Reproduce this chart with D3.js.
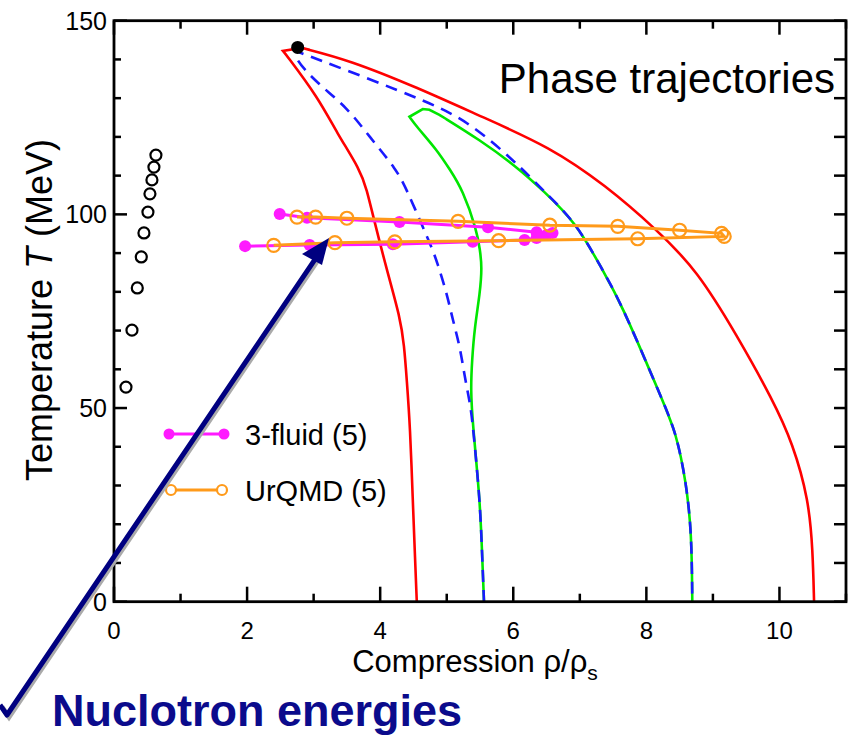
<!DOCTYPE html>
<html>
<head>
<meta charset="utf-8">
<script src="https://cdnjs.cloudflare.com/ajax/libs/d3/7.8.5/d3.min.js"></script>
<style>
  body { margin: 0; background: #fff; }
  text { font-family: "Liberation Sans", Arial, sans-serif; }
</style>
</head>
<body>
<script>
// phase boundaries [compression, T]: left branch (going up), top, right branch (going down)
var redInner = [[4.55,0],[4.52,13],[4.49,26.1],[4.45,45.1],[4.40,57.2],[4.36,66.3],[4.30,73.4],[4.10,85.6],[3.89,99.8],[3.80,106.3],[3.70,111.5],[3.35,121.0],[3.07,130.1],[2.57,141.6],[2.54,142.2]];
var redTop = [[2.54,142.2],[2.82,143.0]];
var redOuter = [[2.82,143.0],[3.54,139.8],[4.55,132.8],[5.54,125.1],[6.55,117.4],[7.38,107.6],[8.16,96.0],[8.76,85.6],[9.36,68.8],[9.90,52.1],[10.20,40.9],[10.44,26.3],[10.50,13.3],[10.52,0]];

var greenInner = [[5.56,0],[5.53,13],[5.50,26.1],[5.39,46.1],[5.36,54.6],[5.38,62.4],[5.42,70.9],[5.50,79.7],[5.53,86.4],[5.50,90.8],[5.45,96.0],[5.24,106.3],[5.05,111.5],[4.85,116.7],[4.55,122.6],[4.44,125.2]];
var greenTop = [[4.44,125.2],[4.64,127.2],[4.74,127.0],[4.89,125.7]];
var greenOuter = [[4.89,125.7],[5.50,119.2],[6.05,112.3],[6.44,106.3],[6.95,97.8],[7.34,85.6],[7.60,77.9],[8.24,52.1],[8.45,43.5],[8.60,30.6],[8.68,17.7],[8.69,0]];

var blueInner = [[5.56,0],[5.53,13],[5.50,26.1],[5.39,46.1],[5.35,51.3],[5.27,58.0],[5.20,65.8],[5.09,72.8],[5.00,79.7],[4.86,87.4],[4.79,90.8],[4.64,96.8],[4.40,106.3],[4.25,111.5],[3.84,120.0],[3.50,127.7],[3.05,133.9],[2.69,140.6],[2.76,142.6]];
var blueTop = [[2.76,142.6],[2.79,141.8]];
var blueOuter = [[2.79,141.8],[3.80,135.2],[4.64,129.5],[5.30,124.4],[6.05,113.3],[6.44,106.3],[6.95,97.8],[7.34,85.6],[7.60,77.9],[8.24,52.1],[8.45,43.5],[8.60,30.6],[8.68,17.7],[8.69,0]];

var critPoint = [2.76, 143.1];
var hadronGas = [[0.63,115.3],[0.60,112.2],[0.57,108.9],[0.54,105.3],[0.51,100.6],[0.45,95.2],[0.41,89.0],[0.35,81.0],[0.27,70.1],[0.18,55.4]];

var threeFluid = [[1.97,91.8],[2.94,92.1],[4.19,92.3],[5.39,92.9],[6.17,93.4],[6.35,93.9],[6.50,94.7],[6.59,95.2],[6.35,95.4],[5.62,96.7],[4.29,98.0],[2.90,99.1],[2.49,100.1]];
var urqmd = [[2.40,92.0],[3.32,92.7],[4.22,92.9],[5.78,93.2],[7.87,93.7],[9.17,94.3],[9.13,95.1],[8.50,95.9],[7.57,96.9],[6.55,97.2],[5.17,98.2],[3.50,99.0],[3.03,99.3],[2.75,99.3]];

var xMajor = [0, 2, 4, 6, 8, 10];
var yMajor = [0, 50, 100, 150];
var legendLabels = ["3-fluid (5)", "UrQMD (5)"];

var width = 852, height = 740;
var svg = d3.select("body").append("svg")
    .attr("width", width)
    .attr("height", height);

var x = d3.scaleLinear().domain([0, 11]).range([114, 846]);
var y = d3.scaleLinear().domain([0, 150]).range([601.7, 20.7]);

var smooth = d3.line()
    .x(function(d) { return x(d[0]); })
    .y(function(d) { return y(d[1]); })
    .curve(d3.curveBasis);
var straight = d3.line()
    .x(function(d) { return x(d[0]); })
    .y(function(d) { return y(d[1]); });

// one continuous path: smooth branches joined by a straight top
function boundary(inner, top, outer) {
  return smooth(inner) + straight(top).replace(/^M/, "L") + smooth(outer).replace(/^M/, "L");
}

// curves
svg.append("path").attr("d", boundary(redInner, redTop, redOuter))
    .attr("fill", "none").attr("stroke", "#ff0000").attr("stroke-width", 2.6);
svg.append("path").attr("d", boundary(greenInner, greenTop, greenOuter))
    .attr("fill", "none").attr("stroke", "#00e600").attr("stroke-width", 2.6);
svg.append("path").attr("d", boundary(blueInner, blueTop, blueOuter))
    .attr("fill", "none").attr("stroke", "#1a1aff").attr("stroke-width", 2.6)
    .attr("stroke-dasharray", "12,8");

// hadron gas points
svg.selectAll(".hg").data(hadronGas).enter().append("circle")
    .attr("cx", function(d) { return x(d[0]); })
    .attr("cy", function(d) { return y(d[1]); })
    .attr("r", 5.5)
    .attr("fill", "none").attr("stroke", "#000").attr("stroke-width", 2.2);

svg.append("circle").attr("cx", x(critPoint[0])).attr("cy", y(critPoint[1]))
    .attr("r", 6.5).attr("fill", "#000");

// trajectories
svg.append("path").attr("d", straight(threeFluid))
    .attr("fill", "none").attr("stroke", "#ff1aff").attr("stroke-width", 3);
svg.selectAll(".tf").data(threeFluid).enter().append("circle")
    .attr("cx", function(d) { return x(d[0]); })
    .attr("cy", function(d) { return y(d[1]); })
    .attr("r", 6).attr("fill", "#ff1aff");

svg.append("path").attr("d", straight(urqmd))
    .attr("fill", "none").attr("stroke", "#ff9a1a").attr("stroke-width", 3);
svg.selectAll(".uq").data(urqmd).enter().append("circle")
    .attr("cx", function(d) { return x(d[0]); })
    .attr("cy", function(d) { return y(d[1]); })
    .attr("r", 6.5).attr("fill", "none")
    .attr("stroke", "#ff9a1a").attr("stroke-width", 2.2);

// frame and ticks
var axes = svg.append("g").attr("stroke", "#000");
axes.append("rect").attr("x", x(0)).attr("y", y(150))
    .attr("width", x(11) - x(0)).attr("height", y(0) - y(150))
    .attr("fill", "none").attr("stroke-width", 2.8);

d3.range(0, 12).forEach(function(v) {
  var major = v % 2 == 0;
  axes.append("line").attr("x1", x(v)).attr("x2", x(v))
      .attr("y1", y(0)).attr("y2", y(0) - (major ? 15 : 8)).attr("stroke-width", 2.5);
  axes.append("line").attr("x1", x(v)).attr("x2", x(v))
      .attr("y1", y(150)).attr("y2", y(150) + (major ? 14 : 8)).attr("stroke-width", 2.5);
});
d3.range(0, 151, 10).forEach(function(v) {
  var major = v % 50 == 0;
  axes.append("line").attr("x1", x(0)).attr("x2", x(0) + (major ? 13 : 7))
      .attr("y1", y(v)).attr("y2", y(v)).attr("stroke-width", 2.5);
  axes.append("line").attr("x1", x(11)).attr("x2", x(11) - 12)
      .attr("y1", y(v)).attr("y2", y(v)).attr("stroke-width", 2.5);
});

svg.selectAll(".xl").data(xMajor).enter().append("text")
    .attr("x", function(d) { return x(d); })
    .attr("y", y(0) + 37)
    .attr("text-anchor", "middle")
    .attr("font-size", 24)
    .text(function(d) { return d; });

svg.selectAll(".yl").data(yMajor).enter().append("text")
    .attr("x", x(0) - 7)
    .attr("y", function(d) { return y(d) + 9; })
    .attr("text-anchor", "end")
    .attr("font-size", 25)
    .text(function(d) { return d; });

// axis titles
var xt = svg.append("text").attr("x", 475).attr("y", 672)
    .attr("text-anchor", "middle").attr("font-size", 31);
xt.append("tspan").text("Compression \u03c1/\u03c1");
xt.append("tspan").attr("font-size", 21).attr("dy", 8).text("s");

var yt = svg.append("text")
    .attr("transform", "translate(52,310) rotate(-90)")
    .attr("text-anchor", "middle").attr("font-size", 36);
yt.append("tspan").text("Temperature ");
yt.append("tspan").attr("font-style", "italic").text("T");
yt.append("tspan").text(" (MeV)");

svg.append("text").attr("x", 835).attr("y", 93)
    .attr("text-anchor", "end")
    .attr("font-family", "'Open Sans', sans-serif")
    .attr("font-size", 42)
    .text("Phase trajectories");

// legend
var leg = svg.append("g");
leg.append("line").attr("x1", 169).attr("x2", 224).attr("y1", 434).attr("y2", 434)
    .attr("stroke", "#ff1aff").attr("stroke-width", 3);
[169, 224].forEach(function(px) {
  leg.append("circle").attr("cx", px).attr("cy", 434).attr("r", 5.5).attr("fill", "#ff1aff");
});
leg.append("line").attr("x1", 171).attr("x2", 222).attr("y1", 490).attr("y2", 490)
    .attr("stroke", "#ff9a1a").attr("stroke-width", 3);
[171, 222].forEach(function(px) {
  leg.append("circle").attr("cx", px).attr("cy", 490).attr("r", 5)
      .attr("fill", "#fff").attr("stroke", "#ff9a1a").attr("stroke-width", 2.2);
});
leg.selectAll("text").data(legendLabels).enter().append("text")
    .attr("x", 245)
    .attr("y", function(d, i) { return 445 + i * 56; })
    .attr("font-size", 29)
    .text(function(d) { return d; });

// annotation arrow
var arrow = svg.append("g");
var tail = "M0,705 L7,715 L320,252";
arrow.append("path").attr("d", tail).attr("transform", "translate(2,2)")
    .attr("fill", "none").attr("stroke", "#aaa").attr("stroke-width", 5);
arrow.append("path").attr("d", tail)
    .attr("fill", "none").attr("stroke", "#000080").attr("stroke-width", 5)
    .attr("stroke-linejoin", "round");
arrow.append("path").attr("d", "M329,238 L302,254 L322,265 Z")
    .attr("fill", "#000080");

svg.append("text").attr("x", 52).attr("y", 726)
    .attr("font-size", 45).attr("font-weight", "bold")
    .attr("fill", "#0b0b8c")
    .text("Nuclotron energies");
</script>
</body>
</html>
